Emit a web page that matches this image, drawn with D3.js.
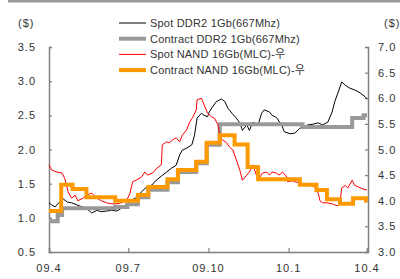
<!DOCTYPE html>
<html>
<head>
<meta charset="utf-8">
<script src="https://cdn.jsdelivr.net/npm/d3@7"></script>
<style>
  body { margin: 0; background: #fff; }
  svg text { font-family: "Liberation Sans", Arial, "Noto Sans CJK KR", sans-serif; fill: #333; }
</style>
</head>
<body>
<div class="chart-container"></div>
<script>
//! DATA
const seriesNames = [
  'Spot DDR2 1Gb(667Mhz)',
  'Contract DDR2 1Gb(667Mhz)',
  'Spot NAND 16Gb(MLC)-우',
  'Contract NAND 16Gb(MLC)-우'
];
const leftTicks = [0.5, 1.0, 1.5, 2.0, 2.5, 3.0, 3.5];
const rightTicks = [3.0, 3.5, 4.0, 4.5, 5.0, 5.5, 6.0, 6.5, 7.0];
const xTickDates = ['2009-04-01', '2009-07-01', '2009-10-01', '2010-01-01', '2010-04-01'];
const xTickLabels = ['09.4', '09.7', '09.10', '10.1', '10.4'];

// Spot DDR2 (left axis)
const spotDdrDates = ['2009-04-01','2009-04-04','2009-04-08','2009-04-13','2009-04-16','2009-04-22','2009-04-27','2009-05-03','2009-05-09','2009-05-14','2009-05-20','2009-05-26','2009-05-31','2009-06-06','2009-06-12','2009-06-18','2009-06-23','2009-06-29','2009-07-05','2009-07-11','2009-07-16','2009-07-22','2009-07-28','2009-08-02','2009-08-08','2009-08-14','2009-08-20','2009-08-25','2009-08-29','2009-09-01','2009-09-06','2009-09-12','2009-09-15','2009-09-18','2009-09-23','2009-09-26','2009-09-30','2009-10-02','2009-10-05','2009-10-10','2009-10-16','2009-10-20','2009-10-23','2009-10-28','2009-11-02','2009-11-06','2009-11-09','2009-11-14','2009-11-17','2009-11-21','2009-11-27','2009-12-01','2009-12-04','2009-12-10','2009-12-13','2009-12-18','2009-12-24','2009-12-27','2010-01-03','2010-01-08','2010-01-14','2010-01-17','2010-01-23','2010-01-29','2010-02-04','2010-02-09','2010-02-15','2010-02-20','2010-02-23','2010-02-27','2010-03-03','2010-03-07','2010-03-12','2010-03-18','2010-03-24','2010-03-30','2010-04-01'];
const spotDdrValues = [1.22,1.19,1.16,1.23,1.29,1.23,1.22,1.19,1.16,1.14,1.07,1.11,1.09,1.10,1.11,1.10,1.14,1.20,1.26,1.30,1.38,1.45,1.48,1.55,1.61,1.67,1.73,1.77,1.92,1.99,2.02,2.07,2.21,2.46,2.53,2.50,2.48,2.55,2.61,2.70,2.74,2.70,2.61,2.53,2.46,2.39,2.28,2.36,2.28,2.40,2.36,2.53,2.58,2.55,2.50,2.47,2.36,2.26,2.23,2.24,2.31,2.33,2.36,2.37,2.39,2.36,2.40,2.55,2.70,2.84,2.99,2.94,2.90,2.87,2.83,2.77,2.74];

// Contract DDR2 (left axis, step)
const contractDdrDates = ['2009-04-01','2009-04-11','2009-04-16','2009-06-16','2009-06-30','2009-07-12','2009-07-24','2009-08-15','2009-08-27','2009-09-17','2009-09-29','2009-10-14','2010-01-17','2010-03-15','2010-03-28','2010-04-01'];
const contractDdrValues = [0.95,1.04,1.14,1.16,1.20,1.30,1.41,1.52,1.67,1.80,2.07,2.37,2.33,2.46,2.50,2.50];

// Spot NAND (right axis)
const spotNandDates = ['2009-04-01','2009-04-04','2009-04-10','2009-04-16','2009-04-19','2009-04-23','2009-04-27','2009-05-01','2009-05-04','2009-05-10','2009-05-14','2009-05-20','2009-05-26','2009-05-31','2009-06-06','2009-06-12','2009-06-18','2009-06-23','2009-06-29','2009-07-03','2009-07-06','2009-07-11','2009-07-16','2009-07-20','2009-07-23','2009-07-29','2009-08-03','2009-08-08','2009-08-09','2009-08-14','2009-08-17','2009-08-21','2009-08-25','2009-08-29','2009-09-01','2009-09-06','2009-09-09','2009-09-13','2009-09-17','2009-09-18','2009-09-23','2009-09-26','2009-09-30','2009-10-05','2009-10-08','2009-10-12','2009-10-14','2009-10-17','2009-10-22','2009-10-25','2009-10-29','2009-11-02','2009-11-06','2009-11-09','2009-11-14','2009-11-17','2009-11-21','2009-11-25','2009-11-29','2009-12-02','2009-12-07','2009-12-10','2009-12-13','2009-12-18','2009-12-21','2009-12-25','2009-12-30','2009-12-31','2010-01-05','2010-01-08','2010-01-14','2010-01-20','2010-01-25','2010-01-31','2010-02-04','2010-02-06','2010-02-09','2010-02-14','2010-02-20','2010-02-26','2010-03-01','2010-03-03','2010-03-07','2010-03-10','2010-03-15','2010-03-18','2010-03-22','2010-03-27','2010-04-01'];
const spotNandValues = [4.70,4.60,4.56,4.54,4.44,4.17,4.05,4.11,4.00,4.05,4.11,4.15,4.05,4.00,3.96,3.94,3.94,3.96,4.00,4.15,4.37,4.41,4.46,4.56,4.50,4.54,4.64,4.70,5.09,5.15,5.13,5.19,5.23,5.15,5.28,5.38,5.52,5.63,5.77,5.97,6.00,5.87,5.71,5.63,5.61,5.48,5.24,5.19,5.13,5.05,4.99,4.80,4.60,4.40,4.50,4.56,4.70,4.50,4.46,4.54,4.56,4.50,4.56,4.54,4.50,4.56,4.46,4.37,4.39,4.37,4.35,4.33,4.30,4.27,4.15,4.00,3.96,3.96,3.94,3.90,3.96,4.25,4.30,4.25,4.40,4.30,4.27,4.23,4.21];

// Contract NAND (right axis, step)
const contractNandDates = ['2009-04-01','2009-04-15','2009-04-28','2009-05-14','2009-06-16','2009-07-12','2009-07-24','2009-08-15','2009-08-27','2009-09-17','2009-09-29','2009-10-14','2009-10-31','2009-11-15','2009-11-27','2010-01-14','2010-02-02','2010-02-14','2010-03-01','2010-03-16','2010-03-31','2010-04-01'];
const contractNandValues = [3.80,4.31,4.23,4.07,4.00,4.11,4.27,4.42,4.60,4.76,5.13,5.28,5.10,4.66,4.42,4.31,4.21,4.03,3.94,4.05,4.00,4.00];

//! CONSTS
const width = 400;
const height = 279;
const plot = { left: 49, right: 368, top: 47, bottom: 252 };
const colors = ['#000000', '#999999', '#ff0000', '#ff9900'];
const strokes = [1, 4, 1, 4];

const parse = d3.timeParse('%Y-%m-%d');
const zip = (dates, values) => dates.map((d, i) => ({ date: parse(d), value: values[i] }));

const svg = d3.select('.chart-container')
  .append('svg')
  .attr('width', width)
  .attr('height', height);

// top frame bar
svg.append('rect')
  .attr('x', 8).attr('y', 0)
  .attr('width', width - 8).attr('height', 2.5)
  .attr('fill', '#999');

//! SCALES
const xScale = d3.scaleTime()
  .domain([parse('2009-04-01'), parse('2010-04-01')])
  .range([plot.left, plot.right - 1]);

const yLeft = d3.scaleLinear().domain([0.5, 3.5]).range([plot.bottom, plot.top]);
const yRight = d3.scaleLinear().domain([3.0, 7.0]).range([plot.bottom, plot.top]);

//! AXES
const axisColor = '#808080';

const leftAxis = svg.append('g')
  .attr('transform', `translate(${plot.left},0)`)
  .call(d3.axisRight(yLeft).tickValues(leftTicks).tickSize(3).tickFormat(''));

const rightAxis = svg.append('g')
  .attr('transform', `translate(${plot.right},0)`)
  .call(d3.axisLeft(yRight).tickValues(rightTicks).tickSize(3).tickFormat(''));

const bottomAxis = svg.append('g')
  .attr('transform', `translate(0,${plot.bottom})`)
  .call(d3.axisTop(xScale).tickValues(xTickDates.map(parse)).tickSize(4).tickFormat(''));

[leftAxis, rightAxis, bottomAxis].forEach(g => {
  g.select('.domain').attr('stroke', axisColor).attr('stroke-width', 1.5);
  g.selectAll('.tick line').attr('stroke', axisColor).attr('stroke-width', 1.2);
});

// tick labels
svg.append('g').selectAll('text')
  .data(leftTicks).enter().append('text')
  .attr('x', 36).attr('y', d => yLeft(d) + 4)
  .attr('text-anchor', 'end')
  .style('font-size', '11px').style('letter-spacing', '1px')
  .text(d => d.toFixed(1));

svg.append('g').selectAll('text')
  .data(rightTicks).enter().append('text')
  .attr('x', 378).attr('y', d => yRight(d) + 4)
  .style('font-size', '11px').style('letter-spacing', '1px')
  .text(d => d.toFixed(1));

svg.append('g').selectAll('text')
  .data(xTickDates).enter().append('text')
  .attr('x', d => xScale(parse(d))).attr('y', 272)
  .attr('text-anchor', 'middle')
  .style('font-size', '11px').style('letter-spacing', '1px')
  .text((d, i) => xTickLabels[i]);

svg.append('text').attr('x', 18).attr('y', 27)
  .style('font-size', '11px').style('letter-spacing', '1px').text('($)');
svg.append('text').attr('x', 384).attr('y', 27)
  .style('font-size', '11px').style('letter-spacing', '1px').text('($)');

//! LINES
const series = [
  { data: zip(spotDdrDates, spotDdrValues), y: yLeft, curve: d3.curveLinear },
  { data: zip(contractDdrDates, contractDdrValues), y: yLeft, curve: d3.curveStepAfter },
  { data: zip(spotNandDates, spotNandValues), y: yRight, curve: d3.curveLinear },
  { data: zip(contractNandDates, contractNandValues), y: yRight, curve: d3.curveStepAfter }
];

series.forEach((s, i) => {
  const line = d3.line()
    .x(d => xScale(d.date))
    .y(d => s.y(d.value))
    .curve(s.curve);
  svg.append('path')
    .datum(s.data)
    .attr('d', line)
    .attr('fill', 'none')
    .attr('stroke', colors[i])
    .attr('stroke-width', strokes[i])
    .attr('stroke-linejoin', 'miter');
});

//! LEGEND
const legend = svg.append('g').attr('transform', 'translate(119,23)');
seriesNames.forEach((name, i) => {
  const row = legend.append('g').attr('transform', `translate(0,${i * 15.7})`);
  row.append('line')
    .attr('x1', 0).attr('x2', 27)
    .attr('stroke', colors[i]).attr('stroke-width', strokes[i]);
  row.append('text')
    .attr('x', 31).attr('y', 4)
    .style('font-size', '11px').style('letter-spacing', '0.2px')
    .text(name);
});
</script>
</body>
</html>
